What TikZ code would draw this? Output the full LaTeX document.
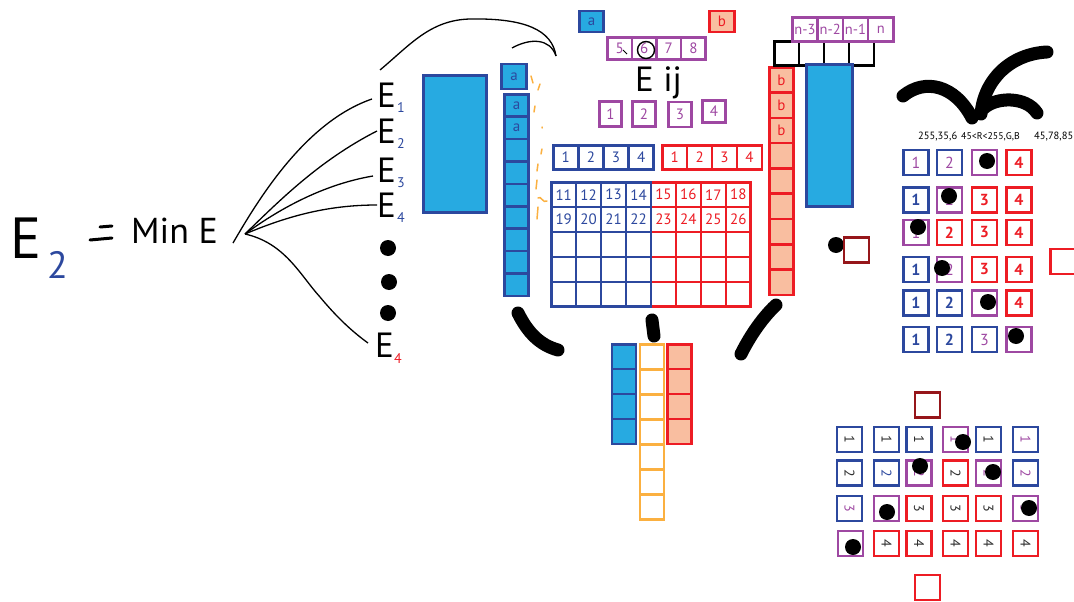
\documentclass[tikz,border=0pt]{standalone}
\usepackage{fontspec}
\setmainfont{PT Sans}
\definecolor{bline}{RGB}{44,72,158}
\definecolor{bfill}{RGB}{39,170,225}
\definecolor{rline}{RGB}{237,28,36}
\definecolor{salmon}{RGB}{249,190,160}
\definecolor{purp}{RGB}{158,72,162}
\definecolor{orng}{RGB}{251,176,64}
\definecolor{dred}{RGB}{150,22,26}
\definecolor{ink}{RGB}{45,45,45}
\tikzset{
  sq/.style={draw, line width=2.6pt, minimum width=25pt, minimum height=25pt,
             inner sep=0pt, fill=white, font=\fontsize{15}{15}\selectfont},
  bsq/.style={sq, draw=bline},
  rsq/.style={sq, draw=rline},
  psq/.style={sq, draw=purp},
  ksq/.style={sq, draw=black},
  dsq/.style={sq, draw=dred},
  bcell/.style={sq, draw=bline, fill=bfill, text=bline},
  scell/.style={sq, draw=rline, fill=salmon, text=rline},
  ocell/.style={sq, draw=orng},
  nb/.style={font=\fontsize{16}{16}\selectfont},
  bb/.style={font=\fontsize{16}{16}\selectfont\bfseries},
  dot/.style={circle, fill=black, minimum size=16pt, inner sep=0pt},
  hand/.style={line width=1.3pt, black},
  blob/.style={line width=13pt, line cap=round, black},
  txt/.style={inner sep=0pt, text=black},
  lbl/.style={inner sep=0pt, anchor=west, font=\fontsize{10.5}{10.5}\selectfont},
}
\begin{document}
\begin{tikzpicture}[x=1pt,y=-1pt]
\useasboundingbox (0,0) rectangle (1074,602);

% ---- the formula on the left
\node[txt, anchor=base west, font=\fontsize{58}{58}\selectfont] (bigE) at (10,258) {E};
\node[txt, anchor=base west, text=bline, font=\fontsize{38}{38}\selectfont] (bigsub) at (47,278) {2};
\draw[line width=3pt, line cap=round] (100,227) -- (112,226) (90,240) -- (112,238);
\node[txt, anchor=base west, font=\fontsize{36}{36}\selectfont] (minE) at (131,243) {Min E};

% ---- the list of energies
\foreach \n/\y in {1/107,2/143,3/182,4/217}{
  \node[txt, anchor=base west, font=\fontsize{35}{35}\selectfont] (E\n) at (377,\y) {E};
  \node[txt, anchor=base west, text=bline, font=\fontsize{14}{14}\selectfont] (Es\n) at (397,\y+5) {\n};
}
\node[txt, anchor=base west, font=\fontsize{35}{35}\selectfont] (E5) at (375,357) {E};
\node[txt, anchor=base west, text=rline, font=\fontsize{14}{14}\selectfont] (Es5) at (394,363) {4};
\node[dot] (v1) at (388,248) {};
\node[dot] (v2) at (389,282) {};
\node[dot] (v3) at (388,313) {};

% ---- fan of strokes from Min E to the list
\coordinate (tail) at (233,243);
\coordinate (fan) at (245,234);
\coordinate (t1) at (372,99);
\coordinate (t2) at (377,131);
\coordinate (t3) at (373,176);
\coordinate (t4) at (377,205);
\coordinate (t5) at (368,343);
\draw[hand] (tail) .. controls (258,200) and (305,122) .. (t1);
\draw[hand] (fan) .. controls (280,200) and (320,160) .. (t2);
\draw[hand] (fan) .. controls (275,212) and (320,185) .. (t3);
\draw[hand] (fan) .. controls (290,215) and (330,205) .. (t4);
\draw[hand] (fan) .. controls (285,243) and (300,275) .. (320,297)
                  .. controls (335,315) and (350,330) .. (t5);

% ---- arcs over the top
\coordinate (arcS) at (380,70);
\coordinate (arcE) at (556,56);
\coordinate (arcT) at (512,48);
\draw[hand] (arcS) .. controls (410,45) and (430,20) .. (470,19)
                   .. controls (525,18) and (552,30) .. (arcE);
\draw[hand] (arcT) .. controls (530,38) and (550,38) .. (arcE);

% ---- blue blocks on the left
\node[bcell, minimum width=63.5pt, minimum height=137.5pt] (bigblue) at (455,144) {};
\node[bcell] (atop) at (514,76.5) {a};
\foreach \k/\t in {0/a,1/a,2/{},3/{},4/{},5/{},6/{},7/{},8/{}}
  \node[bcell, minimum width=24.5pt, minimum height=22.4pt] (lc\k) at (516.5,{105.45+22.4*\k}) {\t};

% orange hand marks beside the column
\draw[orng, line width=1.5pt, line cap=round]
  (531,76) -- (533,83) (540,84) -- (538,90) (535,106) -- (534,112)
  (542,127) -- (542,128) (542,149) -- (541,154) (538,164) -- (537,171)
  (537,180) -- (536,189) (538,198) .. controls (541,195) and (543,204) .. (547,201)
  (538,207) -- (537,219);

% ---- top centre
\node[bcell, minimum width=24.5pt, minimum height=21pt] (ta) at (591.5,21.5) {a};
\node[scell, minimum width=25pt, minimum height=21pt] (tb) at (722,21.5) {b};
\foreach \k/\t in {0/5,1/6,2/7,3/8}
  \node[psq, text=purp, minimum width=24.6pt, minimum height=22.5pt] (p\t) at ({619.6+24.6*\k},48.5) {\t};
\draw[hand, line width=1pt] (623,50) -- (627,54);
\draw[hand, line width=1.4pt] (646,50) circle (8.5);
\node[txt, anchor=base west, font=\fontsize{35}{35}\selectfont] (Eij) at (635,92) {E ij};
\node[psq, text=purp, minimum width=22.5pt, minimum height=25.5pt] (q1) at (610.5,114) {1};
\node[psq, text=purp, minimum width=22.5pt, minimum height=25.5pt] (q2) at (644,114) {2};
\node[psq, text=purp, minimum width=23.5pt, minimum height=25pt] (q3) at (680,114.5) {3};
\node[psq, text=purp, minimum width=23.5pt, minimum height=22.5pt] (q4) at (714,111.5) {4};

% ---- index rows
\foreach \k in {0,...,3}{
  \pgfmathtruncatemacro\lab{\k+1}
  \node[bsq, text=bline, minimum width=25.1pt, minimum height=24.5pt] (bi\k) at ({565.8+25.1*\k},157.5) {\lab};
  \node[rsq, text=rline, minimum width=24.9pt, minimum height=24.5pt] (ri\k) at ({674.7+24.9*\k},157.5) {\lab};
}

% ---- the 8 x 5 grid
\foreach \c/\a/\b in {4/15/23,5/16/24,6/17/25,7/18/26}{
  \node[rsq, text=rline, minimum width=24.94pt, minimum height=24.9pt] (g0\c) at ({563.7+24.94*\c},194.7) {\a};
  \node[rsq, text=rline, minimum width=24.94pt, minimum height=24.9pt] (g1\c) at ({563.7+24.94*\c},219.6) {\b};
  \foreach \r in {2,3,4}
    \node[rsq, minimum width=24.94pt, minimum height=24.9pt] (g\r\c) at ({563.7+24.94*\c},{194.7+24.9*\r}) {};
}
\foreach \c/\a/\b in {0/11/19,1/12/20,2/13/21,3/14/22}{
  \node[bsq, text=bline, minimum width=24.94pt, minimum height=24.9pt] (g0\c) at ({563.7+24.94*\c},194.7) {\a};
  \node[bsq, text=bline, minimum width=24.94pt, minimum height=24.9pt] (g1\c) at ({563.7+24.94*\c},219.6) {\b};
  \foreach \r in {2,3,4}
    \node[bsq, minimum width=24.94pt, minimum height=24.9pt] (g\r\c) at ({563.7+24.94*\c},{194.7+24.9*\r}) {};
}

% ---- right column, top row and blue bar
\foreach \k/\t in {0/b,1/b,2/b,3/{},4/{},5/{},6/{},7/{},8/{}}
  \node[scell, minimum width=24.5pt, minimum height=25.3pt] (rc\k) at (781.5,{79.9+25.3*\k}) {\t};
\foreach \k in {0,...,3}
  \node[ksq, minimum width=24.9pt, minimum height=24.5pt] (kb\k) at ({786.7+24.9*\k},53.5) {};
\foreach \k/\t in {0/n-3,1/n-2,2/n-1,3/n}
  \node[psq, text=purp, font=\fontsize{14.5}{14.5}\selectfont, minimum width=25.3pt, minimum height=24.5pt] (nr\k) at ({804.9+25.3*\k},29.5) {\t};
\node[bcell, minimum width=46.5pt, minimum height=142.5pt] (tallblue) at (829.5,135.5) {};
\node[dot] (mdot) at (836,245) {};
\node[dsq] (mred) at (856.5,250) {};

% ---- heavy strokes
\draw[blob] (518,313) .. controls (528,333) and (540,345) .. (558,350);
\draw[blob] (652,320) -- (654,336);
\draw[blob] (776,305) .. controls (760,320) and (748,340) .. (741,354);
\draw[blob] (903,96) .. controls (925,78) and (955,85) .. (972,118);
\draw[blob] (1047,52) .. controls (1010,54) and (984,80) .. (981,114);
\draw[blob] (984,108) .. controls (996,97) and (1026,96) .. (1037,113);

% ---- bottom centre columns
\foreach \k in {0,...,6}
  \node[ocell, minimum width=24pt, minimum height=25.07pt] (oc\k) at (652,{356.8+25.07*\k}) {};
\foreach \k in {0,...,3}{
  \node[bcell, minimum width=24pt, minimum height=24.9pt] (bc\k) at (624,{356.7+24.9*\k}) {};
  \node[scell, minimum width=23.5pt, minimum height=24.9pt] (sc\k) at (679.5,{356.7+24.9*\k}) {};
}

% ---- right panel
\node[lbl] (h1) at (918,137) {255,35,6};
\node[lbl, font=\fontsize{9.8}{9.8}\selectfont] (h2) at (961,137) {45<R<255,G,B};
\node[lbl] (h3) at (1034,137) {45,78,85};
\foreach \x/\y/\s/\t/\tc/\f [count=\n] in {
  916/162.5/bsq/1/purp/nb, 949.5/162.5/bsq/2/purp/nb, 984.5/162.5/psq/{}/purp/nb, 1019/162.5/rsq/4/rline/bb,
  916/200/bsq/1/bline/bb, 949.5/200/psq/2/purp/nb, 984.5/200/rsq/3/rline/bb, 1019/200/rsq/4/rline/bb,
  916/232.5/psq/1/purp/nb, 949.5/232.5/rsq/2/rline/bb, 984.5/232.5/rsq/3/rline/bb, 1019/232.5/rsq/4/rline/bb,
  916/269.5/bsq/1/bline/bb, 949.5/269.5/psq/2/purp/nb, 984.5/269.5/rsq/3/rline/bb, 1019/269.5/rsq/4/rline/bb,
  916/303/bsq/1/bline/bb, 949.5/303/bsq/2/bline/bb, 984.5/303/psq/{}/purp/nb, 1019/303/rsq/4/rline/bb,
  916/339.5/bsq/1/bline/bb, 949.5/339.5/bsq/2/bline/bb, 984.5/339.5/bsq/3/purp/nb, 1019/339.5/psq/{}/purp/nb}
  \node[\s, \f, text=\tc] (rp\n) at (\x,\y) {\t};
\foreach \x/\y [count=\n] in {987/161, 949/196, 918/227, 942/268, 988/302, 1016/336}
  \node[dot] (rd\n) at (\x,\y) {};
\node[rsq] (edge) at (1063,261.5) {};

% ---- bottom right panel
\node[dsq] (btop) at (927.5,405) {};
\node[rsq] (bbot) at (927.5,587.5) {};
\foreach \x/\y/\s/\t/\tc [count=\n] in {
  849.5/439.5/bsq/1/ink, 886.5/439.5/bsq/1/ink, 919/439.5/bsq/1/ink, 955.5/439.5/psq/1/purp, 988.5/439.5/bsq/1/ink, 1025.5/439.5/bsq/1/purp,
  849.5/473/bsq/2/ink, 886.5/473/bsq/2/bline, 919/473/psq/2/purp, 955.5/473/rsq/2/ink, 988.5/473/psq/2/purp, 1025.5/473/bsq/2/purp,
  849.5/508.5/bsq/3/purp, 886.5/508.5/psq/{}/purp, 919/508.5/rsq/3/ink, 955.5/508.5/rsq/3/ink, 988.5/508.5/rsq/3/ink, 1025.5/508.5/psq/3/purp,
  850.5/543.5/psq/{}/purp, 886.5/543.5/rsq/4/ink, 919/543.5/rsq/4/ink, 955.5/543.5/rsq/4/ink, 988.5/543.5/rsq/4/ink, 1025.5/543.5/rsq/4/ink}
  \node[\s, text=\tc, rotate=-90, font=\fontsize{14}{14}\selectfont] (bp\n) at (\x,\y) {\t};
\foreach \x/\y [count=\n] in {963/442, 920/466, 993/472, 887/512, 1029/508, 853/547}
  \node[dot] (bd\n) at (\x,\y) {};

\end{tikzpicture}
\end{document}
